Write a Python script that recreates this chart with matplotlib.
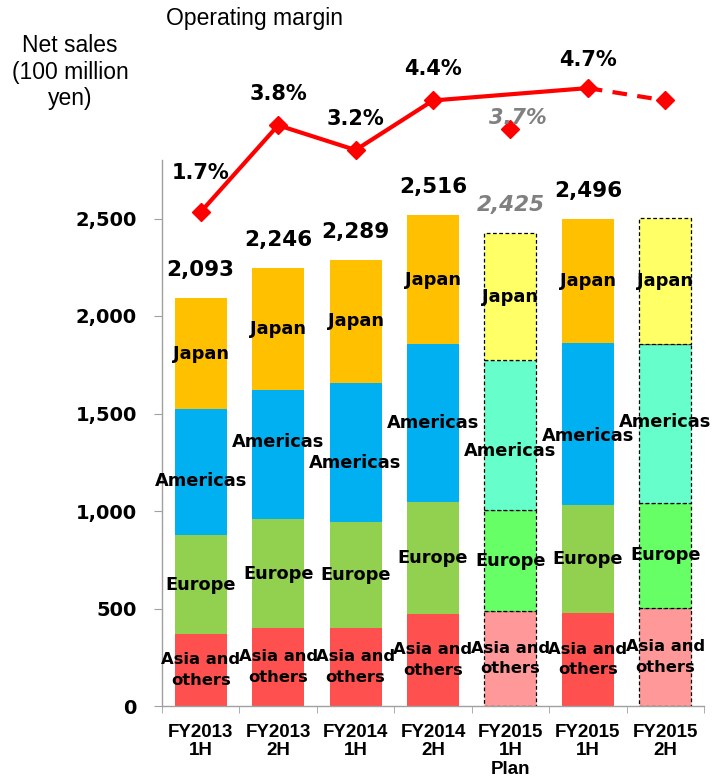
import matplotlib.pyplot as plt
import numpy as np
from matplotlib.ticker import FuncFormatter

# net sales by region (100 million yen), bottom to top
categories = ['FY2013\n1H', 'FY2013\n2H', 'FY2014\n1H', 'FY2014\n2H',
              'FY2015\n1H\nPlan', 'FY2015\n1H', 'FY2015\n2H']
asia = [369, 400, 400, 471, 488, 478, 503]
europe = [507, 558, 543, 574, 516, 552, 538]
americas = [645, 661, 712, 810, 769, 830, 814]
japan = [572, 627, 634, 661, 652, 636, 645]
margin = [1.7, 3.8, 3.2, 4.4, 3.7, 4.7, 4.4]
is_plan = [False, False, False, False, True, False, True]
show_total = [True, True, True, True, True, True, False]
show_margin = [True, True, True, True, True, True, False]

regions = ['Asia and\nothers', 'Europe', 'Americas', 'Japan']
col_actual = ['#FF5050', '#92D050', '#00B0F0', '#FFC000']
col_plan = ['#FF9999', '#66FF66', '#66FFCC', '#FFFF66']

# nudges (pixels, up is positive) so neighbouring labels don't collide
americas_dy = [-9, 13, -10, 0, -16, -12, 2]
margin_dy = [33, 25, 25, 25, 5, 22, 0]
margin_dx = [0, 0, 0, 0, 7, 0, 0]

W, H = 712, 779
fig = plt.figure(figsize=(W / 100, H / 100), dpi=100)
ax = fig.add_axes([162 / W, 73 / H, 542 / W, 546 / H])

x = np.arange(len(categories))
segs = [asia, europe, americas, japan]
bottom = np.zeros(len(x))
for k, (seg, name) in enumerate(zip(segs, regions)):
    fs = 11.8 if '\n' in name else 12.8
    for i in x:
        if is_plan[i]:
            ax.bar(i, seg[i], 0.67, bottom=bottom[i], color=col_plan[k],
                   edgecolor='black', linestyle=(0, (3, 2)), linewidth=0.9)
        else:
            ax.bar(i, seg[i], 0.67, bottom=bottom[i], color=col_actual[k],
                   linewidth=0)
        dy = americas_dy[i] if name == 'Americas' else 0
        ax.annotate(name, (i, bottom[i] + seg[i] / 2), xytext=(0, dy),
                    textcoords='offset pixels', ha='center', va='center',
                    linespacing=1.45, zorder=5, family='DejaVu Sans',
                    fontweight='bold', fontsize=fs)
    bottom += np.array(seg)

totals = bottom
for i in x:
    if not show_total[i]:
        continue
    plan = is_plan[i]
    ax.annotate(f'{int(totals[i]):,}', (i, totals[i]), xytext=(0, 22),
                textcoords='offset pixels', ha='center', va='baseline',
                fontsize=15.5, fontweight='bold', family='DejaVu Sans',
                color='#808080' if plan else 'black',
                style='italic' if plan else 'normal', annotation_clip=False)

ax.set_xlim(-0.5, len(x) - 0.5)
ax.set_ylim(0, 2800)
ax.set_yticks(np.arange(0, 2501, 500))
ax.yaxis.set_major_formatter(FuncFormatter(lambda v, p: f'{int(v):,}'))
for lab in ax.get_yticklabels():
    lab.set_fontweight('bold')
    lab.set_fontsize(14)
    lab.set_family('DejaVu Sans')
ax.tick_params(axis='y', length=6, color='#A0A0A0', pad=12)
ax.set_xticks(x)
ax.set_xticklabels(categories, fontsize=13.5, fontweight='bold',
                   family='Liberation Sans', linespacing=1.1)
ax.set_xticks(np.arange(-0.5, len(x)), minor=True)
ax.tick_params(axis='x', which='major', length=0, pad=13)
ax.tick_params(axis='x', which='minor', length=5, color='#A0A0A0')
for s in ['top', 'right']:
    ax.spines[s].set_visible(False)
for s in ['left', 'bottom']:
    ax.spines[s].set_color('#A0A0A0')
    ax.spines[s].set_linewidth(1)

# operating margin (%) on its own invisible axes above the bars
axm = fig.add_axes([162 / W, (H - 282.2) / H, 542 / W, 206.5 / H])
axm.set_xlim(-0.5, len(x) - 0.5)
axm.set_ylim(0, 5)
axm.axis('off')
actual = [i for i in x if not is_plan[i]]
m = np.array(margin)
axm.plot(actual, m[actual], color='red', lw=3, clip_on=False)
axm.plot([5, 6], m[[5, 6]], color='red', lw=3, ls=(0, (3.5, 2.5)), clip_on=False)
axm.plot(x, m, ls='none', marker='D', ms=9, color='red', clip_on=False)
for i in x:
    if not show_margin[i]:
        continue
    plan = is_plan[i]
    axm.annotate(f'{margin[i]:.1f}%', (i, margin[i]),
                 xytext=(margin_dx[i], margin_dy[i]), textcoords='offset pixels',
                 ha='center', va='baseline', fontsize=15, fontweight='bold',
                 family='DejaVu Sans', color='#808080' if plan else 'black',
                 style='italic' if plan else 'normal', annotation_clip=False)

fig.text(70 / W, 1 - 72 / H, 'Net sales\n(100 million\nyen)', ha='center',
         va='center', fontsize=16.5, family='Liberation Sans', linespacing=1.2)
fig.text(255 / W, 1 - 18 / H, 'Operating margin', ha='center', va='center',
         fontsize=16.5, family='Liberation Sans')

fig.savefig('out.png', dpi=100)
